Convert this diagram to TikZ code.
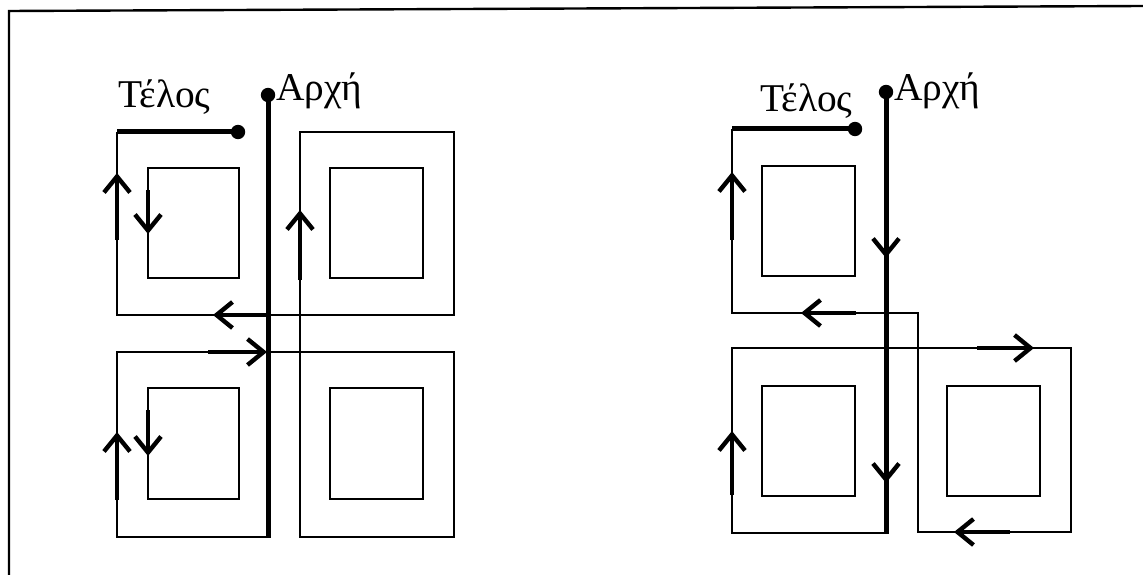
\documentclass[tikz,border=0pt]{standalone}
\usepackage{fontspec}
\setmainfont{Liberation Serif}
\usetikzlibrary{arrows.meta}

\begin{document}
\begin{tikzpicture}[x=0.25mm,y=-0.25mm,
    wire/.style={line width=0.55mm,line join=miter},
    lead/.style={line width=1.25mm},
    core/.style={line width=0.55mm},
    arr/.style={line width=1.1mm,-{Straight Barb[length=4mm,width=6.5mm,line width=1.1mm]}},
    pin/.style={circle,fill=black,inner sep=0pt,minimum size=3.6mm},
    lbl/.style={font=\fontsize{28}{32}\selectfont,inner sep=0pt,anchor=base west}]
          \useasboundingbox (0,0) rectangle (1143,575);
          \draw[line width=0.6mm] (9,575) -- (9,11) -- (1143,6);
          % left winding
          \node[pin] (startA) at (268,95) {};
          \node[pin] (endA) at (238,132) {};
          \node[lbl] (startAtxt) at (276,101) {Αρχή};
          \node[lbl] (endAtxt) at (118,108) {Τέλος};
          \draw[lead] (startA.center) -- (268,538);
          \draw[lead] (117,132) -- (endA.center);
          \draw[wire] (268,537) -- (117,537) -- (117,352) -- (454,352) -- (454,537)
                      -- (300,537) -- (300,132) -- (454,132) -- (454,315) -- (117,315) -- (117,132);
          \draw[core] (148,168) rectangle (239,278)
                      (330,168) rectangle (423,278)
                      (148,388) rectangle (239,499)
                      (330,388) rectangle (423,499);
          \draw[arr] (117,240) -- (117,173);   % up, top left
          \draw[arr] (117,500) -- (117,432);   % up, bottom left
          \draw[arr] (148,190) -- (148,234);   % down, inner top
          \draw[arr] (148,410) -- (148,456);   % down, inner bottom
          \draw[arr] (300,280) -- (300,210);   % up, middle
          \draw[arr] (266,315) -- (213,315);   % left
          \draw[arr] (208,352) -- (267,352);   % right
          % right winding
          \node[pin] (startB) at (886,92) {};
          \node[pin] (endB) at (855,129) {};
          \node[lbl] (startBtxt) at (894,101) {Αρχή};
          \node[lbl] (endBtxt) at (760,112) {Τέλος};
          \draw[lead] (startB.center) -- (886,534);
          \draw[lead] (732,129) -- (endB.center);
          \draw[wire] (886,533) -- (732,533) -- (732,348) -- (1071,348) -- (1071,532)
                      -- (918,532) -- (918,313) -- (732,313) -- (732,129);
          \draw[core] (762,166) rectangle (855,276)
                      (762,386) rectangle (855,496)
                      (947,386) rectangle (1040,496);
          \draw[arr] (886,200) -- (886,258);   % down, upper
          \draw[arr] (886,430) -- (886,483);   % down, lower
          \draw[arr] (732,240) -- (732,172);   % up, top
          \draw[arr] (732,495) -- (732,431);   % up, bottom
          \draw[arr] (977,348) -- (1034,348);  % right
          \draw[arr] (1010,532) -- (954,532);  % left, bottom
          \draw[arr] (856,313) -- (801,313);   % left, middle
        \end{tikzpicture}
\end{document}
